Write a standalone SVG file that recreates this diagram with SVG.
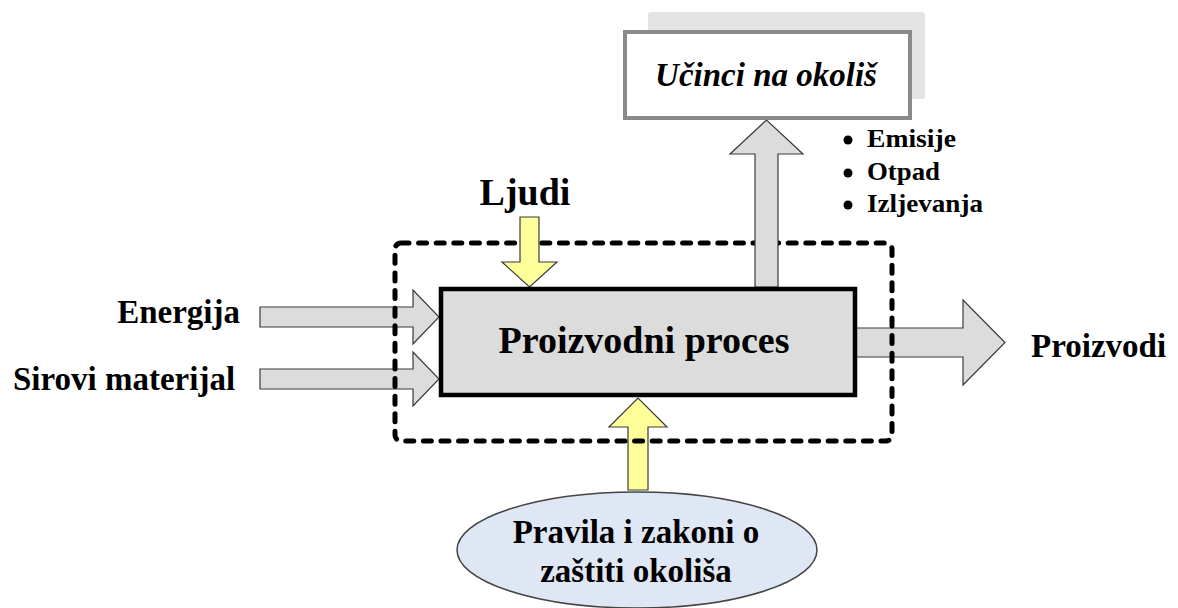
<svg xmlns="http://www.w3.org/2000/svg" width="1178" height="608" viewBox="0 0 1178 608">
<style>
text { font-family: "Liberation Serif", "Times New Roman", serif; font-weight: bold; fill: #000; }
.arrow-gray { fill: #dcdcdc; stroke: #3a3a3a; stroke-width: 1.2; stroke-linejoin: miter; }
.arrow-yellow { fill: #ffff99; stroke: #3a3a3a; stroke-width: 1.2; stroke-linejoin: miter; }
.boundary { fill: none; stroke: #000; stroke-width: 5; stroke-dasharray: 8 9.6; stroke-linecap: round; }
</style>
<rect width="1178" height="608" fill="#ffffff"/>

<!-- connectors drawn below the boundary -->
<g id="connectors-under">
  <path class="arrow-gray" d="M260,307 H413 V290 L439,317 L413,344 V327 H260 Z"/>
  <path class="arrow-gray" d="M260,369 H413 V352 L439,379 L413,406 V389 H260 Z"/>
  <path class="arrow-gray" d="M855,328 H963 V300 L1005,342.5 L963,385 V357 H855 Z"/>
  <path class="arrow-yellow" d="M628,490 V427 H609 L638,398 L667,427 H648 V490 Z"/>
</g>

<g id="boundary">
  <rect class="boundary" x="395" y="243" width="497" height="198" rx="6"/>
</g>

<g id="connectors">
  <path class="arrow-gray" d="M755,287 V154 H730 L766.5,120 L803,154 H778 V287 Z"/>
  <path class="arrow-yellow" d="M520,217 H539 V262 H557 L529.5,287 L502,262 H520 Z"/>
</g>

<g id="process">
  <rect x="441" y="289" width="414" height="106" fill="#dcdcdc" stroke="#000" stroke-width="4.5"/>
  <text x="644" y="353" font-size="38" text-anchor="middle">Proizvodni proces</text>
</g>

<g id="impacts">
  <rect x="648" y="12" width="277" height="87" rx="3" fill="#e4e4e4"/>
  <rect x="625" y="32" width="285" height="86" fill="#ffffff" stroke="#8a8a8a" stroke-width="4"/>
  <text x="766" y="86" font-size="33" font-style="italic" text-anchor="middle">Učinci na okoliš</text>
</g>

<g id="impact-list">
  <circle cx="848" cy="140" r="4.5" fill="#000"/>
  <circle cx="848" cy="173" r="4.5" fill="#000"/>
  <circle cx="848" cy="205" r="4.5" fill="#000"/>
  <text x="867" y="147" font-size="26" textLength="89" lengthAdjust="spacingAndGlyphs">Emisije</text>
  <text x="867" y="180" font-size="26" textLength="73" lengthAdjust="spacingAndGlyphs">Otpad</text>
  <text x="867" y="212" font-size="26" textLength="116" lengthAdjust="spacingAndGlyphs">Izljevanja</text>
</g>

<g id="people">
  <text x="525" y="205" font-size="38" text-anchor="middle">Ljudi</text>
</g>

<g id="energy">
  <text x="240" y="323" font-size="33" text-anchor="end">Energija</text>
</g>

<g id="raw-material">
  <text x="13" y="390" font-size="33">Sirovi materijal</text>
</g>

<g id="products">
  <text x="1031" y="357" font-size="33">Proizvodi</text>
</g>

<g id="regulations">
  <ellipse cx="637" cy="550" rx="180" ry="58" fill="#dfe7f5" stroke="#444" stroke-width="1.5"/>
  <text x="636" y="543" font-size="33" text-anchor="middle">Pravila i zakoni o</text>
  <text x="636" y="582" font-size="33" text-anchor="middle">zaštiti okoliša</text>
</g>
</svg>
